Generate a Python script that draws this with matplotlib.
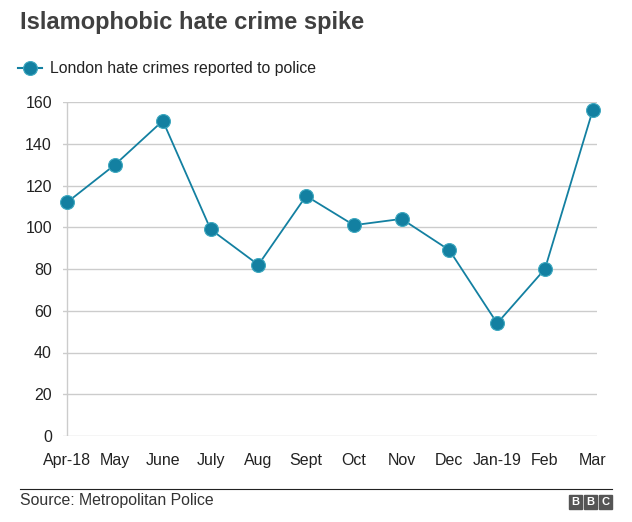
import matplotlib.pyplot as plt
from matplotlib.lines import Line2D
from matplotlib.patches import Rectangle

months = ['Apr-18', 'May', 'June', 'July', 'Aug', 'Sept', 'Oct', 'Nov',
          'Dec', 'Jan-19', 'Feb', 'Mar']
crimes = [112, 130, 151, 99, 82, 115, 101, 104, 89, 54, 80, 156]
yticks = [0, 20, 40, 60, 80, 100, 120, 140, 160]

teal = '#1380A1'
plt.rcParams['font.family'] = ['Liberation Sans', 'DejaVu Sans']

fig = plt.figure(figsize=(6.32, 5.22), dpi=100)
ax = fig.add_axes([63 / 632, (522 - 436) / 522, (597 - 63) / 632, (436 - 102) / 522])

x = list(range(len(months)))
ax.plot(x, crimes, color=teal, lw=1.3, marker='o', ms=10,
        markerfacecolor=teal, markeredgecolor='#3fa9c0', markeredgewidth=0.8,
        zorder=3, clip_on=False)

ax.set_ylim(0, 160)
ax.set_xlim(-0.09, 11.09)
ax.set_yticks(yticks)
ax.set_xticks(x)
ax.set_xticklabels(months)
ax.grid(axis='y', color='#cccccc', lw=1)
ax.axvline(0, color='#cccccc', lw=1, zorder=1)
for s in ax.spines.values():
    s.set_visible(False)
ax.tick_params(length=0, labelsize=11.5, colors='#222222', pad=12)
ax.tick_params(axis='y', pad=8)

fig.text(20 / 632, 1 - 22 / 522, 'Islamophobic hate crime spike', fontsize=17,
         fontweight='bold', color='#404040', va='center', ha='left')

fig.add_artist(Line2D([18 / 632, 42 / 632], [1 - 68 / 522] * 2, color=teal, lw=1.5,
                      transform=fig.transFigure))
fig.add_artist(Line2D([30 / 632], [1 - 68 / 522], color=teal, marker='o', ms=10,
                      markeredgecolor='#3fa9c0', markeredgewidth=0.8,
                      transform=fig.transFigure))
fig.text(50 / 632, 1 - 68 / 522, 'London hate crimes reported to police', fontsize=11.4,
         color='#222222', va='center', ha='left')

fig.add_artist(Line2D([20 / 632, 612 / 632], [1 - 489 / 522] * 2, color='#222222',
                      lw=0.8, transform=fig.transFigure))
fig.text(20 / 632, 1 - 501 / 522, 'Source: Metropolitan Police', fontsize=11.4,
         color='#333333', va='center', ha='left')

for i, ch in enumerate('BBC'):
    x0 = (569 + i * 15) / 632
    fig.add_artist(Rectangle((x0, 1 - 509 / 522), 13 / 632, 14 / 522,
                             color='#555555', transform=fig.transFigure))
    fig.text(x0 + 6.5 / 632, 1 - 502 / 522, ch, fontsize=8, fontweight='bold',
             color='white', ha='center', va='center')

fig.savefig('out.png', dpi=100)
